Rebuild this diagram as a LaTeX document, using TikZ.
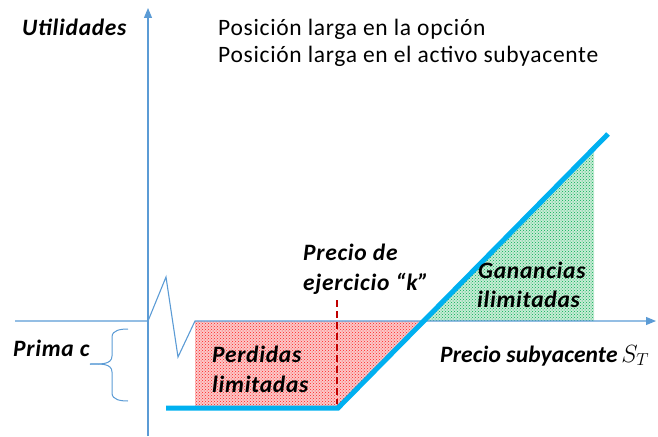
\documentclass[tikz,border=0pt]{standalone}
\usepackage{fontspec}
\setmainfont{Carlito}[LetterSpace=3]
\usetikzlibrary{arrows.meta,patterns}
\definecolor{axisblue}{HTML}{5B9BD5}
\definecolor{payoff}{HTML}{00B0F0}
\definecolor{darkred}{HTML}{C00000}
\definecolor{dotred}{HTML}{FF2020}
\definecolor{dotgreen}{HTML}{00B050}
\definecolor{tintred}{HTML}{FBC8C8}
\definecolor{tintgreen}{HTML}{C8EBD6}
\tikzset{
  axis/.style={draw=axisblue, line width=1.1pt},
  lbl/.style={anchor=base west, inner sep=0pt, font=\fontsize{23.5}{28}\selectfont\bfseries\itshape},
  toplbl/.style={anchor=base west, inner sep=0pt, font=\fontsize{23.5}{28}\selectfont},
  payoffline/.style={draw=payoff, line width=5pt},
}
\begin{document}
\begin{tikzpicture}[x=1pt,y=-1pt]
\useasboundingbox (0,0) rectangle (658,436);
% shaded regions
\fill[tintred] (195,321) -- (424,321) -- (338,408) -- (195,408) -- cycle;
\fill[pattern=crosshatch dots, pattern color=dotred] (195,321) -- (424,321) -- (338,408) -- (195,408) -- cycle;
\fill[tintgreen] (424,321) -- (594,321) -- (594,148) -- cycle;
\fill[pattern=crosshatch dots, pattern color=dotgreen] (424,321) -- (594,321) -- (594,148) -- cycle;
% axes
\coordinate (yb) at (148,436);
\coordinate (yt) at (148,8);
\draw[axis, -{Triangle[length=10pt,width=8pt]}] (yb) -- (yt);
\coordinate (xl) at (15,321);
\coordinate (xo) at (148,321);
\coordinate (z1) at (166,277);
\coordinate (z2) at (178,357);
\coordinate (z3) at (195,321);
\coordinate (xr) at (656,321);
\draw[axis, -{Triangle[length=10pt,width=8pt]}] (xl) -- (xo) -- (z1) -- (z2) -- (z3) -- (xr);
% payoff
\coordinate (p0) at (166,408);
\coordinate (p1) at (338,408);
\coordinate (p2) at (608,134);
\draw[payoffline] (p0) -- (p1) -- (p2);
% strike dashed
\coordinate (k0) at (337,300);
\coordinate (k1) at (337,404);
\draw[darkred, line width=2pt, dash pattern=on 7pt off 4pt] (k0) -- (k1);
% brace
\coordinate (bt) at (128,329);
\coordinate (bb) at (128,401);
\coordinate (btip) at (90,364);
\draw[axisblue, line width=1pt] (bt) to[out=180,in=90] (112,337) -- (112,356) to[out=-90,in=0] (btip);
\draw[axisblue, line width=1pt] (bb) to[out=180,in=-90] (112,393) -- (112,372) to[out=90,in=0] (btip);
% labels
\node[lbl] (util) at (22,36) {Utilidades};
\node[toplbl] (t1) at (218,36) {Posición larga en la opción};
\node[toplbl] (t2) at (218,63) {Posición larga en el activo subyacente};
\node[lbl] (prima) at (13,356) {Prima c};
\node[lbl] (perd1) at (212,362) {Perdidas};
\node[lbl] (perd2) at (212,392) {limitadas};
\node[lbl] (k1l) at (303,260) {Precio de};
\node[lbl] (k2l) at (303,290) {ejercicio “k”};
\node[lbl] (g1) at (478,278) {Ganancias};
\node[lbl] (g2) at (477,307) {ilimitadas};
\node[lbl, font=\fontsize{23.5}{28}\selectfont\bfseries\itshape\addfontfeatures{LetterSpace=0.5}] (xlab) at (440,362) {Precio subyacente\,$S_{T}$};
\end{tikzpicture}
\end{document}
